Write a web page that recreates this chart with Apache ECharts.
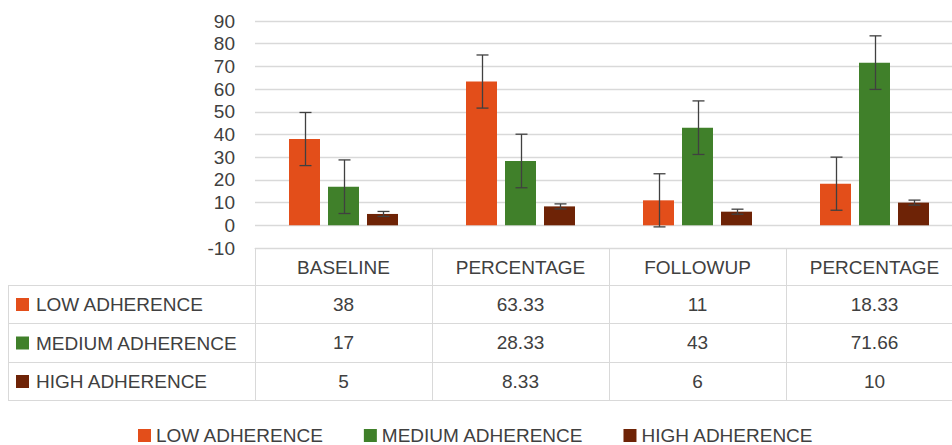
<!DOCTYPE html>
<html><head><meta charset="utf-8">
<script src="https://cdn.jsdelivr.net/npm/echarts@6/dist/echarts.min.js"></script>
<style>html,body{margin:0;padding:0;background:#fff;overflow:hidden}#c{width:952px;height:445px}</style>
</head><body><div id="c"></div>
<script>
// ---- data ----
const categories = ['BASELINE', 'PERCENTAGE', 'FOLLOWUP', 'PERCENTAGE'];
const seriesNames = ['LOW ADHERENCE', 'MEDIUM ADHERENCE', 'HIGH ADHERENCE'];
const lowValues = [38, 63.33, 11, 18.33];
const mediumValues = [17, 28.33, 43, 71.66];
const highValues = [5, 8.33, 6, 10];
const lowErr = [11.7, 11.7, 11.7, 11.7];
const mediumErr = [11.8, 11.8, 11.8, 11.8];
const highErr = [1.1, 1.1, 1.1, 1.1];
const yTicks = { min: -10, max: 90, interval: 10 };

// ---- style / layout ----
const colors = ['#E34E1A', '#40802A', '#6E2306'];
const textColor = '#404040';
const lineColor = '#d9d9d9';
const font = 'Liberation Sans, Arial, sans-serif';
const fs = 19;
const gridLeft = 255, gridWidth = 708, gridTop = 21, gridBottomY = 248;
const barW = 31, barGapPx = 8;
const rowTops = [285, 323, 362];
const rowBottom = 400;
const tableLeft = 8;

const valuesBySeries = [lowValues, mediumValues, highValues];
const errBySeries = [lowErr, mediumErr, highErr];

const chart = echarts.init(document.getElementById('c'), null, { renderer: 'svg' });

function tableAxis(offset, tickLen, labels, margin) {
  return {
    type: 'category', position: 'bottom', gridIndex: 0, offset: offset,
    data: categories,
    boundaryGap: true,
    axisLine: { show: true, onZero: false, lineStyle: { color: lineColor, width: 1 } },
    axisTick: { show: tickLen > 0, length: tickLen, interval: 0, lineStyle: { color: lineColor, width: 1 } },
    axisLabel: labels ? {
      show: true, interval: 0, margin: margin, verticalAlign: 'middle',
      color: textColor, fontSize: fs, fontFamily: font,
      formatter: (v, i) => String(labels[i])
    } : { show: false },
    splitLine: { show: false }
  };
}

const xAxes = [
  tableAxis(0, 37, categories, 19),
  tableAxis(rowTops[0] - gridBottomY, rowTops[1] - rowTops[0], lowValues, 19),
  tableAxis(rowTops[1] - gridBottomY, rowTops[2] - rowTops[1], mediumValues, 19.5),
  tableAxis(rowTops[2] - gridBottomY, rowBottom - rowTops[2], highValues, 19),
  tableAxis(rowBottom - gridBottomY, 0, null, 0)
];

const barSeries = seriesNames.map((name, s) => ({
  name: name, type: 'bar', xAxisIndex: 0, yAxisIndex: 0,
  data: valuesBySeries[s],
  barWidth: barW, barGap: (barGapPx / barW * 100) + '%',
  itemStyle: { color: colors[s] },
  emphasis: { disabled: true }
}));

const errSeries = seriesNames.map((name, s) => ({
  name: name + ' err', type: 'custom', xAxisIndex: 0, yAxisIndex: 0,
  data: valuesBySeries[s].map((v, i) => [i, v - errBySeries[s][i], v + errBySeries[s][i]]),
  z: 5, silent: true,
  renderItem: function (params, api) {
    const i = api.value(0);
    const lo = api.coord([i, api.value(1)]);
    const hi = api.coord([i, api.value(2)]);
    const x = Math.round(lo[0] + (s - 1) * (barW + barGapPx)) + 0.5;
    const cap = 6;
    const st = { stroke: '#404040', lineWidth: 1.3 };
    return {
      type: 'group', children: [
        { type: 'line', shape: { x1: x, y1: hi[1], x2: x, y2: lo[1] }, style: st },
        { type: 'line', shape: { x1: x - cap, y1: hi[1], x2: x + cap, y2: hi[1] }, style: st },
        { type: 'line', shape: { x1: x - cap, y1: lo[1], x2: x + cap, y2: lo[1] }, style: st }
      ]
    };
  }
}));

// left column of the data table
const graphics = [];
const hLines = rowTops.concat([rowBottom]);
hLines.forEach(y => graphics.push({
  type: 'line', silent: true,
  shape: { x1: tableLeft, y1: y + 0.5, x2: gridLeft, y2: y + 0.5 },
  style: { stroke: lineColor, lineWidth: 1 }
}));
graphics.push({
  type: 'line', silent: true,
  shape: { x1: tableLeft + 0.5, y1: rowTops[0], x2: tableLeft + 0.5, y2: rowBottom },
  style: { stroke: lineColor, lineWidth: 1 }
});
seriesNames.forEach((name, s) => {
  const yTop = rowTops[s];
  const yBot = s < 2 ? rowTops[s + 1] : rowBottom;
  const yc = (yTop + yBot) / 2 + 0.5;
  graphics.push({
    type: 'rect', silent: true,
    shape: { x: 16, y: yc - 6.5, width: 13, height: 13 },
    style: { fill: colors[s] }
  });
  graphics.push({
    type: 'text', silent: true, x: 36, y: yc,
    style: { text: name, fill: textColor, fontSize: fs, fontFamily: font, verticalAlign: 'middle', align: 'left' }
  });
});

chart.setOption({
  animation: false,
  color: colors,
  grid: { left: gridLeft, width: gridWidth, top: gridTop, bottom: 445 - gridBottomY, containLabel: false, outerBoundsMode: 'none' },
  legend: {
    data: seriesNames, left: 133, top: 421,
    itemWidth: 13, itemHeight: 13, itemGap: 40,
    icon: 'rect',
    textStyle: { color: textColor, fontSize: fs, fontFamily: font },
    selectedMode: false
  },
  xAxis: xAxes,
  yAxis: {
    type: 'value', min: yTicks.min, max: yTicks.max, interval: yTicks.interval,
    axisLine: { show: false }, axisTick: { show: false },
    axisLabel: { color: textColor, fontSize: fs, fontFamily: font, margin: 20 },
    splitLine: { show: true, lineStyle: { color: lineColor, width: 1.3 } }
  },
  series: barSeries.concat(errSeries),
  graphic: graphics
});
</script></body></html>
